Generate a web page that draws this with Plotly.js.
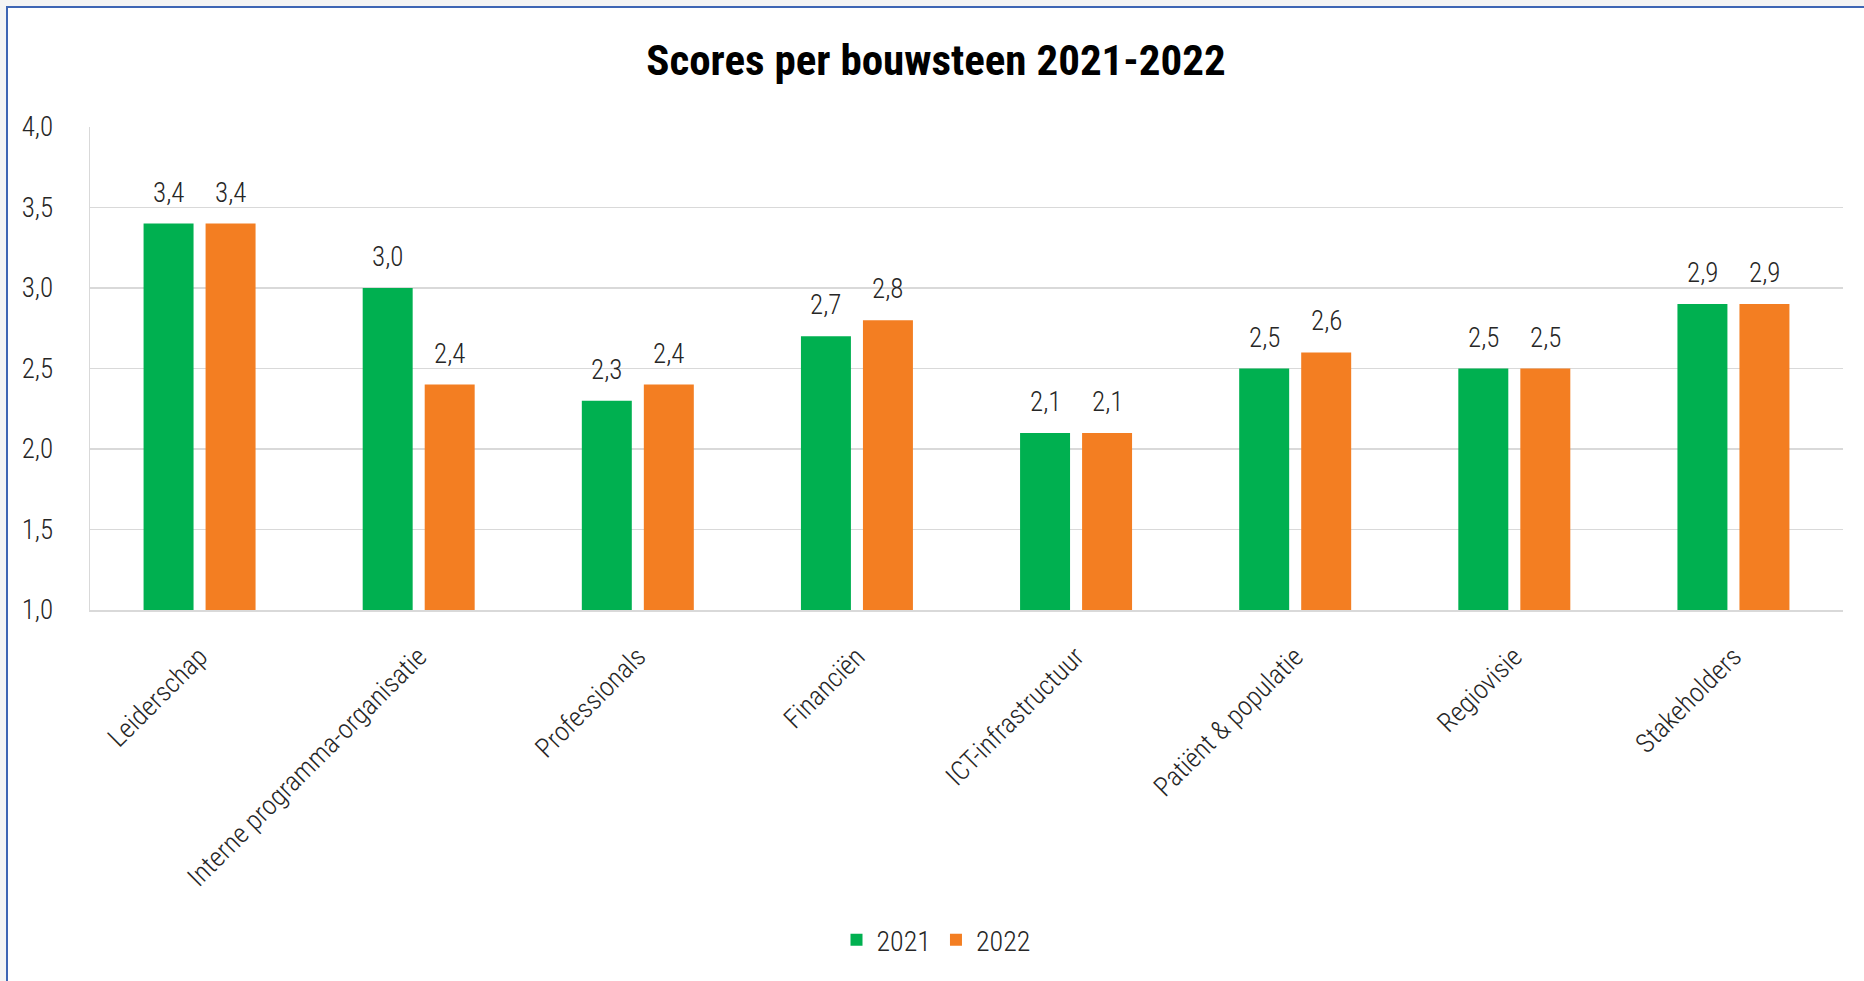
<!DOCTYPE html>
<html>
<head>
<meta charset="utf-8">
<script src="https://cdn.plot.ly/plotly-3.0.1.min.js"></script>
<style>
  html, body { margin: 0; padding: 0; background: #f4f4f4; overflow: hidden; }
  #wrap { position: absolute; left: 6px; top: 6px; width: 1900px; height: 1000px;
          border-top: 2px solid #3f66b4; border-left: 2px solid #3f66b4; background: #ffffff; }
  #chart { position: absolute; left: 0; top: 0; width: 1856px; height: 973px; }
</style>
</head>
<body>
<div id="wrap"><div id="chart"></div></div>
<script>
const categories = ["Leiderschap", "Interne programma-organisatie", "Professionals", "Financiën",
  "ICT-infrastructuur", "Patiënt & populatie", "Regiovisie", "Stakeholders"];
const seriesNames = ["2021", "2022"];
const values2021 = [3.4, 3.0, 2.3, 2.7, 2.1, 2.5, 2.5, 2.9];
const values2022 = [3.4, 2.4, 2.4, 2.8, 2.1, 2.6, 2.5, 2.9];
const yTicks = [1.0, 1.5, 2.0, 2.5, 3.0, 3.5, 4.0];

const FONT = '"Liberation Sans Narrow", "Roboto Condensed", "DejaVu Sans Condensed", "Open Sans", sans-serif';
const colors = ["#00b050", "#f37e22"];
const allValues = [values2021, values2022];

const traces = allValues.map((vals, i) => ({
  type: "bar",
  name: seriesNames[i],
  x: categories,
  y: vals.map(v => v - 1),
  base: 1,
  marker: { color: colors[i] },
  hoverinfo: "skip"
}));

const annotations = [];
allValues.forEach((vals, s) => {
  vals.forEach((v, k) => {
    annotations.push({
      x: categories[k], y: v, xref: "x", yref: "y",
      text: v.toFixed(1).replace(".", ","),
      showarrow: false, yanchor: "bottom",
      xshift: s === 0 ? -31 : 31, yshift: 13,
      font: { family: FONT, size: 27, weight: 300, color: "#262626" }
    });
  });
});

const layout = {
  width: 1856, height: 973,
  paper_bgcolor: "rgba(0,0,0,0)", plot_bgcolor: "#ffffff",
  margin: { l: 82, r: 21, t: 119, b: 371 },
  separators: ",.",
  title: {
    text: "<b>Scores per bouwsteen 2021-2022</b>",
    font: { family: FONT, size: 43, color: "#000000" },
    xref: "container", x: 0.5, xanchor: "center",
    yref: "container", y: 1 - 52 / 973, yanchor: "middle"
  },
  bargap: 0.434, bargroupgap: 0.194, barmode: "group",
  xaxis: {
    type: "category",
    tickangle: -45,
    tickfont: { family: FONT, size: 27, weight: 300, color: "#262626" },
    showline: true, linecolor: "#d9d9d9", linewidth: 2,
    ticks: "outside", ticklen: 18, tickcolor: "rgba(0,0,0,0)",
    showgrid: false
  },
  yaxis: {
    range: [1, 4],
    tickvals: yTicks,
    tickformat: ".1f",
    tickfont: { family: FONT, size: 27, weight: 300, color: "#262626" },
    gridcolor: "#d9d9d9", gridwidth: 1.5,
    showline: true, linecolor: "#d9d9d9", linewidth: 1.5,
    ticks: "outside", ticklen: 30, tickcolor: "rgba(0,0,0,0)",
    zeroline: false
  },
  showlegend: true,
  legend: {
    orientation: "h",
    xref: "container", x: 0.5, xanchor: "center",
    yref: "container", y: 1 - 932 / 973, yanchor: "middle",
    font: { family: FONT, size: 28, weight: 300, color: "#262626" },
    itemwidth: 30
  },
  annotations: annotations
};

Plotly.newPlot("chart", traces, layout, { displayModeBar: false, staticPlot: true });
</script>
</body>
</html>
